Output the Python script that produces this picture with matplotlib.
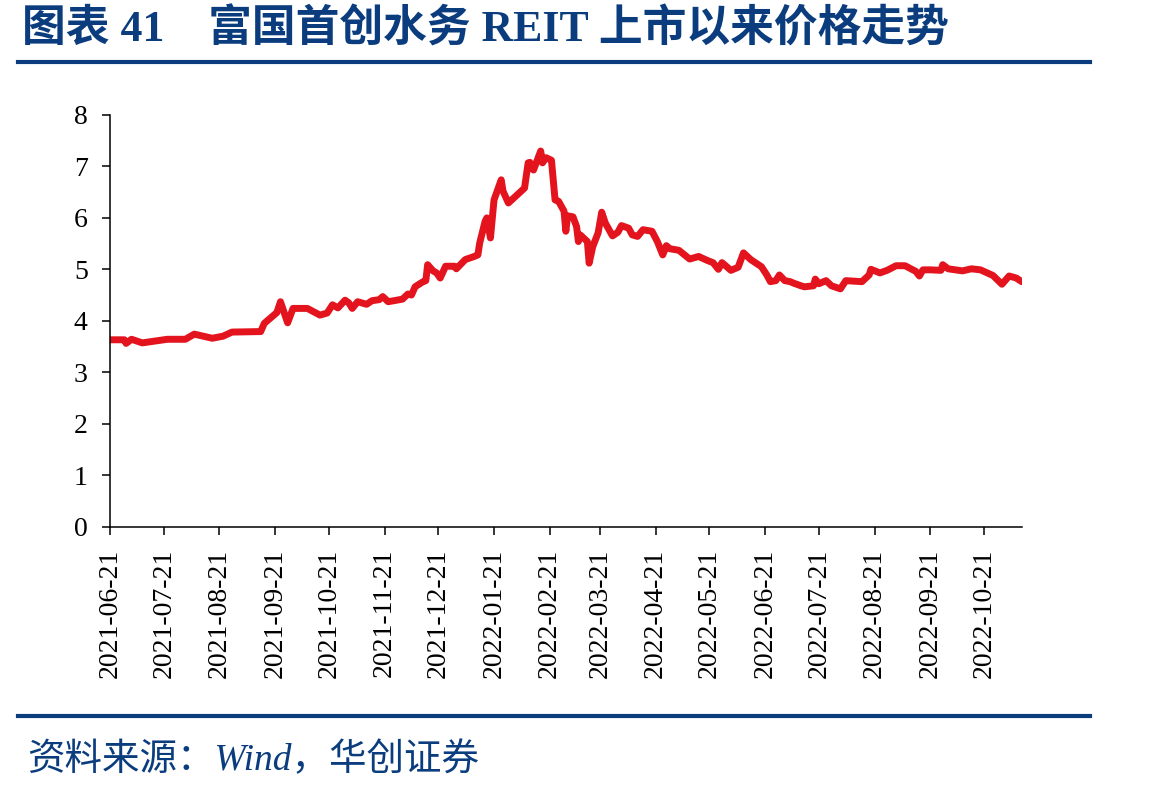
import matplotlib
matplotlib.use("Agg")
import matplotlib.pyplot as plt
import matplotlib.dates as mdates
from matplotlib.lines import Line2D
import pandas as pd

# 富国首创水务 REIT 收盘价
listing_date = "2021-06-21"
days_since_listing = [
    0, 8, 9, 12, 18, 24, 32, 42, 47, 57, 63, 68, 84, 86, 90, 93, 95, 99, 102, 110,
    117, 121, 124, 127, 131, 133, 135, 138, 143, 146, 150, 152, 155, 163, 166, 168,
    170, 174, 176, 177, 180, 182, 184, 187, 192, 193, 198, 203, 205, 206, 209, 210,
    212, 214, 218, 219, 222, 231, 233, 234, 236, 240, 241, 243, 246, 248, 250, 253,
    254, 255, 258, 260, 261, 262, 266, 267, 269, 272, 274, 276, 280, 283, 285, 289,
    291, 294, 297, 302, 305, 308, 310, 312, 317, 323, 328, 333, 336, 339, 341, 346,
    350, 353, 357, 363, 366, 368, 371, 373, 376, 379, 381, 385, 387, 392, 393, 395,
    399, 402, 407, 410, 419, 423, 424, 429, 433, 438, 443, 449, 451, 453, 457, 463,
    464, 467, 475, 480, 485, 492, 497, 501, 505, 508,
]
price = [
    3.63, 3.63, 3.56, 3.64, 3.57, 3.60, 3.64, 3.64, 3.74, 3.66, 3.70, 3.78, 3.79, 3.95,
    4.07, 4.16, 4.37, 3.96, 4.24, 4.24, 4.11, 4.15, 4.31, 4.25, 4.40, 4.35, 4.24, 4.37,
    4.32, 4.39, 4.41, 4.47, 4.37, 4.42, 4.52, 4.50, 4.66, 4.75, 4.78, 5.09, 4.97, 4.93,
    4.83, 5.06, 5.06, 5.01, 5.19, 5.25, 5.28, 5.51, 5.93, 6.00, 5.61, 6.35, 6.74, 6.52,
    6.29, 6.58, 7.07, 7.08, 6.93, 7.30, 7.07, 7.17, 7.12, 6.35, 6.32, 6.13, 5.74, 6.04,
    6.02, 5.83, 5.54, 5.67, 5.54, 5.12, 5.44, 5.71, 6.11, 5.90, 5.65, 5.72, 5.85, 5.80,
    5.67, 5.64, 5.77, 5.74, 5.54, 5.28, 5.46, 5.40, 5.37, 5.20, 5.25, 5.17, 5.13, 5.00,
    5.13, 4.98, 5.04, 5.32, 5.19, 5.05, 4.89, 4.76, 4.78, 4.89, 4.78, 4.76, 4.73, 4.68,
    4.66, 4.68, 4.81, 4.72, 4.78, 4.68, 4.62, 4.78, 4.76, 4.89, 5.00, 4.93, 4.98, 5.07,
    5.07, 4.96, 4.87, 4.99, 4.99, 4.98, 5.09, 5.01, 4.97, 5.01, 4.99, 4.88, 4.71, 4.87,
    4.83, 4.76,
]
y_ticks = [0, 1, 2, 3, 4, 5, 6, 7, 8]

title = "图表 41\u3000富国首创水务 REIT 上市以来价格走势"
source = "资料来源：Wind，华创证券"

blue = "#0B3D7E"
red = "#E3141E"

dates = pd.Timestamp(listing_date) + pd.to_timedelta(days_since_listing, unit="D")

fig = plt.figure(figsize=(11.49, 7.92), dpi=100)
ax = fig.add_axes([0.0957, 0.3352, 0.7935, 0.5196])

ax.plot(dates, price, color=red, lw=5, solid_joinstyle="round", solid_capstyle="round")

ax.set_xlim(dates[0], dates[-1])
ax.set_ylim(0, 8)
ax.set_yticks(y_ticks)
ax.xaxis.set_major_locator(mdates.MonthLocator(bymonthday=21))
ax.xaxis.set_major_formatter(mdates.DateFormatter("%Y-%m-%d"))

for s in ["top", "right"]:
    ax.spines[s].set_visible(False)
for s in ["left", "bottom"]:
    ax.spines[s].set_linewidth(1.1)
ax.tick_params(direction="out", length=6, width=1.1, labelsize=20, pad=10)
for lab in ax.get_xticklabels():
    lab.set_rotation(90)
for lab in ax.get_xticklabels() + ax.get_yticklabels():
    lab.set_fontfamily("Liberation Serif")

fig.text(0.019, 0.963, title, fontsize=31.5, fontweight="bold", color=blue,
         va="center", ha="left", family=["Liberation Serif", "Noto Sans CJK SC"])
fig.add_artist(Line2D([0.016, 0.949], [0.922, 0.922], color=blue, lw=3))
fig.add_artist(Line2D([0.016, 0.949], [0.096, 0.096], color=blue, lw=3))
fig.text(0.024, 0.040, source, fontsize=27, style="italic", color=blue,
         va="center", ha="left", family=["Liberation Serif", "Noto Sans CJK SC"])

fig.savefig("out.png", dpi=100)
